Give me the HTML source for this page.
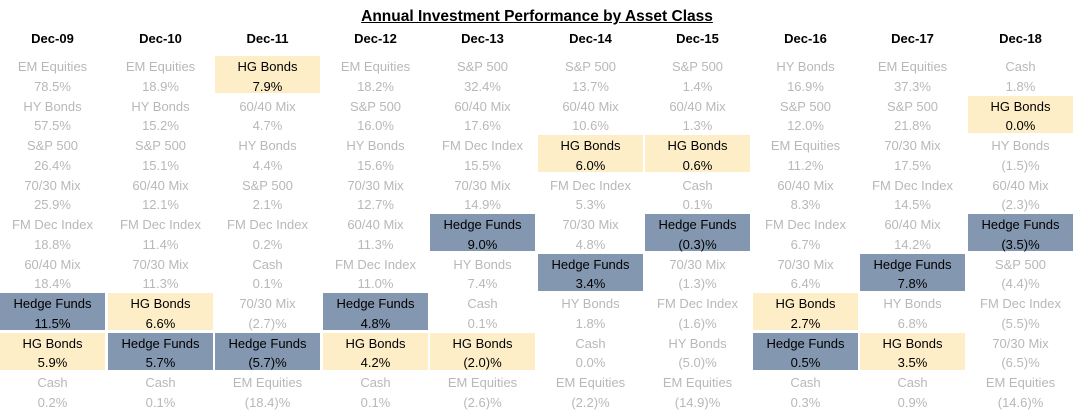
<!DOCTYPE html>
<html><head><style>
body{margin:0;width:1074px;height:414px;background:#fff;position:relative;overflow:hidden;font-family:"Liberation Sans",sans-serif;}
.t{position:absolute;top:8px;left:0;width:1074px;text-align:center;font-weight:bold;font-size:15.5px;text-decoration:underline;color:#000}
.h{position:absolute;top:31px;width:105px;text-align:center;font-weight:bold;font-size:13px;color:#000}
.c{position:absolute;width:105px;height:37px;text-align:center;font-size:13px;line-height:19.5px;padding-top:1px;box-sizing:border-box;color:#b8b8b8}
.y{background:#fdeec8;color:#000}
.b{background:#8497b0;color:#000}
</style></head><body>
<div class="t">Annual Investment Performance by Asset Class</div>
<div class="h" style="left:0px">Dec-09</div>
<div class="h" style="left:108px">Dec-10</div>
<div class="h" style="left:215px">Dec-11</div>
<div class="h" style="left:323px">Dec-12</div>
<div class="h" style="left:430px">Dec-13</div>
<div class="h" style="left:538px">Dec-14</div>
<div class="h" style="left:645px">Dec-15</div>
<div class="h" style="left:753px">Dec-16</div>
<div class="h" style="left:860px">Dec-17</div>
<div class="h" style="left:968px">Dec-18</div>

<div class="c" style="left:0px;top:56px">EM Equities<br>78.5%</div>
<div class="c" style="left:0px;top:95.5px">HY Bonds<br>57.5%</div>
<div class="c" style="left:0px;top:135px">S&amp;P 500<br>26.4%</div>
<div class="c" style="left:0px;top:174.5px">70/30 Mix<br>25.9%</div>
<div class="c" style="left:0px;top:214px">FM Dec Index<br>18.8%</div>
<div class="c" style="left:0px;top:253.5px">60/40 Mix<br>18.4%</div>
<div class="c b" style="left:0px;top:293px">Hedge Funds<br>11.5%</div>
<div class="c y" style="left:0px;top:332.5px">HG Bonds<br>5.9%</div>
<div class="c" style="left:0px;top:372px">Cash<br>0.2%</div>

<div class="c" style="left:108px;top:56px">EM Equities<br>18.9%</div>
<div class="c" style="left:108px;top:95.5px">HY Bonds<br>15.2%</div>
<div class="c" style="left:108px;top:135px">S&amp;P 500<br>15.1%</div>
<div class="c" style="left:108px;top:174.5px">60/40 Mix<br>12.1%</div>
<div class="c" style="left:108px;top:214px">FM Dec Index<br>11.4%</div>
<div class="c" style="left:108px;top:253.5px">70/30 Mix<br>11.3%</div>
<div class="c y" style="left:108px;top:293px">HG Bonds<br>6.6%</div>
<div class="c b" style="left:108px;top:332.5px">Hedge Funds<br>5.7%</div>
<div class="c" style="left:108px;top:372px">Cash<br>0.1%</div>

<div class="c y" style="left:215px;top:56px">HG Bonds<br>7.9%</div>
<div class="c" style="left:215px;top:95.5px">60/40 Mix<br>4.7%</div>
<div class="c" style="left:215px;top:135px">HY Bonds<br>4.4%</div>
<div class="c" style="left:215px;top:174.5px">S&amp;P 500<br>2.1%</div>
<div class="c" style="left:215px;top:214px">FM Dec Index<br>0.2%</div>
<div class="c" style="left:215px;top:253.5px">Cash<br>0.1%</div>
<div class="c" style="left:215px;top:293px">70/30 Mix<br>(2.7)%</div>
<div class="c b" style="left:215px;top:332.5px">Hedge Funds<br>(5.7)%</div>
<div class="c" style="left:215px;top:372px">EM Equities<br>(18.4)%</div>

<div class="c" style="left:323px;top:56px">EM Equities<br>18.2%</div>
<div class="c" style="left:323px;top:95.5px">S&amp;P 500<br>16.0%</div>
<div class="c" style="left:323px;top:135px">HY Bonds<br>15.6%</div>
<div class="c" style="left:323px;top:174.5px">70/30 Mix<br>12.7%</div>
<div class="c" style="left:323px;top:214px">60/40 Mix<br>11.3%</div>
<div class="c" style="left:323px;top:253.5px">FM Dec Index<br>11.0%</div>
<div class="c b" style="left:323px;top:293px">Hedge Funds<br>4.8%</div>
<div class="c y" style="left:323px;top:332.5px">HG Bonds<br>4.2%</div>
<div class="c" style="left:323px;top:372px">Cash<br>0.1%</div>

<div class="c" style="left:430px;top:56px">S&amp;P 500<br>32.4%</div>
<div class="c" style="left:430px;top:95.5px">60/40 Mix<br>17.6%</div>
<div class="c" style="left:430px;top:135px">FM Dec Index<br>15.5%</div>
<div class="c" style="left:430px;top:174.5px">70/30 Mix<br>14.9%</div>
<div class="c b" style="left:430px;top:214px">Hedge Funds<br>9.0%</div>
<div class="c" style="left:430px;top:253.5px">HY Bonds<br>7.4%</div>
<div class="c" style="left:430px;top:293px">Cash<br>0.1%</div>
<div class="c y" style="left:430px;top:332.5px">HG Bonds<br>(2.0)%</div>
<div class="c" style="left:430px;top:372px">EM Equities<br>(2.6)%</div>

<div class="c" style="left:538px;top:56px">S&amp;P 500<br>13.7%</div>
<div class="c" style="left:538px;top:95.5px">60/40 Mix<br>10.6%</div>
<div class="c y" style="left:538px;top:135px">HG Bonds<br>6.0%</div>
<div class="c" style="left:538px;top:174.5px">FM Dec Index<br>5.3%</div>
<div class="c" style="left:538px;top:214px">70/30 Mix<br>4.8%</div>
<div class="c b" style="left:538px;top:253.5px">Hedge Funds<br>3.4%</div>
<div class="c" style="left:538px;top:293px">HY Bonds<br>1.8%</div>
<div class="c" style="left:538px;top:332.5px">Cash<br>0.0%</div>
<div class="c" style="left:538px;top:372px">EM Equities<br>(2.2)%</div>

<div class="c" style="left:645px;top:56px">S&amp;P 500<br>1.4%</div>
<div class="c" style="left:645px;top:95.5px">60/40 Mix<br>1.3%</div>
<div class="c y" style="left:645px;top:135px">HG Bonds<br>0.6%</div>
<div class="c" style="left:645px;top:174.5px">Cash<br>0.1%</div>
<div class="c b" style="left:645px;top:214px">Hedge Funds<br>(0.3)%</div>
<div class="c" style="left:645px;top:253.5px">70/30 Mix<br>(1.3)%</div>
<div class="c" style="left:645px;top:293px">FM Dec Index<br>(1.6)%</div>
<div class="c" style="left:645px;top:332.5px">HY Bonds<br>(5.0)%</div>
<div class="c" style="left:645px;top:372px">EM Equities<br>(14.9)%</div>

<div class="c" style="left:753px;top:56px">HY Bonds<br>16.9%</div>
<div class="c" style="left:753px;top:95.5px">S&amp;P 500<br>12.0%</div>
<div class="c" style="left:753px;top:135px">EM Equities<br>11.2%</div>
<div class="c" style="left:753px;top:174.5px">60/40 Mix<br>8.3%</div>
<div class="c" style="left:753px;top:214px">FM Dec Index<br>6.7%</div>
<div class="c" style="left:753px;top:253.5px">70/30 Mix<br>6.4%</div>
<div class="c y" style="left:753px;top:293px">HG Bonds<br>2.7%</div>
<div class="c b" style="left:753px;top:332.5px">Hedge Funds<br>0.5%</div>
<div class="c" style="left:753px;top:372px">Cash<br>0.3%</div>

<div class="c" style="left:860px;top:56px">EM Equities<br>37.3%</div>
<div class="c" style="left:860px;top:95.5px">S&amp;P 500<br>21.8%</div>
<div class="c" style="left:860px;top:135px">70/30 Mix<br>17.5%</div>
<div class="c" style="left:860px;top:174.5px">FM Dec Index<br>14.5%</div>
<div class="c" style="left:860px;top:214px">60/40 Mix<br>14.2%</div>
<div class="c b" style="left:860px;top:253.5px">Hedge Funds<br>7.8%</div>
<div class="c" style="left:860px;top:293px">HY Bonds<br>6.8%</div>
<div class="c y" style="left:860px;top:332.5px">HG Bonds<br>3.5%</div>
<div class="c" style="left:860px;top:372px">Cash<br>0.9%</div>

<div class="c" style="left:968px;top:56px">Cash<br>1.8%</div>
<div class="c y" style="left:968px;top:95.5px">HG Bonds<br>0.0%</div>
<div class="c" style="left:968px;top:135px">HY Bonds<br>(1.5)%</div>
<div class="c" style="left:968px;top:174.5px">60/40 Mix<br>(2.3)%</div>
<div class="c b" style="left:968px;top:214px">Hedge Funds<br>(3.5)%</div>
<div class="c" style="left:968px;top:253.5px">S&amp;P 500<br>(4.4)%</div>
<div class="c" style="left:968px;top:293px">FM Dec Index<br>(5.5)%</div>
<div class="c" style="left:968px;top:332.5px">70/30 Mix<br>(6.5)%</div>
<div class="c" style="left:968px;top:372px">EM Equities<br>(14.6)%</div>
</body></html>
